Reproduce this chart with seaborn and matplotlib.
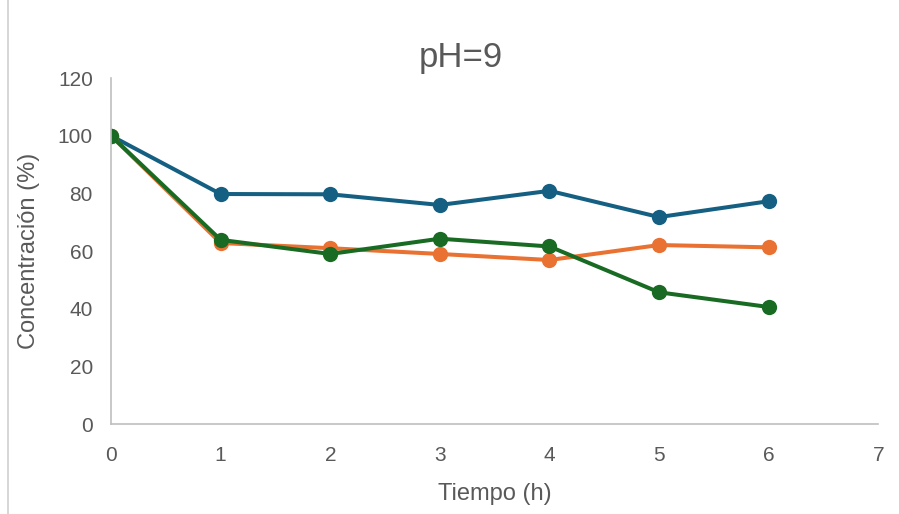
import pandas as pd
import matplotlib.pyplot as plt
import seaborn as sns
from matplotlib.lines import Line2D

tiempo = [0, 1, 2, 3, 4, 5, 6]
serie_azul = [100, 79.8, 79.7, 76.0, 80.9, 71.8, 77.3]
serie_naranja = [100, 62.8, 61.0, 59.0, 56.9, 62.1, 61.3]
serie_verde = [100, 63.9, 59.0, 64.3, 61.6, 45.7, 40.6]

colores = {"azul": "#156082", "naranja": "#E97132", "verde": "#196B24"}

df = pd.DataFrame({"Tiempo": tiempo, "azul": serie_azul,
                   "naranja": serie_naranja, "verde": serie_verde})
df_long = df.melt(id_vars="Tiempo", var_name="Serie", value_name="Concentracion")

sns.set_style("white")
plt.rcParams['font.family'] = ['Liberation Sans', 'DejaVu Sans']

fig = plt.figure(figsize=(8.99, 5.14), dpi=100)
ax = fig.add_axes([0.1235, 0.175, 0.8535, 0.673])

sns.lineplot(data=df_long, x="Tiempo", y="Concentracion", hue="Serie",
             palette=colores, marker="o", markersize=11, linewidth=2.9,
             markeredgewidth=0, legend=False, ax=ax)

ax.set_xlim(0, 7)
ax.set_ylim(0, 120)
ax.set_xticks(range(0, 8))
ax.set_yticks(range(0, 121, 20))
ax.tick_params(axis="both", length=0, labelsize=15, labelcolor="#595959")
ax.tick_params(axis="x", pad=16)
ax.tick_params(axis="y", pad=13)

fig.text(461 / 899, 1 - 57 / 514, "pH=9", fontsize=25, color="#595959",
         ha="center", va="center")
ax.set_xlabel("Tiempo (h)", fontsize=17, color="#595959", labelpad=13)
ax.set_ylabel("Concentración (%)", fontsize=17, color="#595959", labelpad=13)

for s in ["top", "right"]:
    ax.spines[s].set_visible(False)
for s in ["left", "bottom"]:
    ax.spines[s].set_color("#BFBFBF")
    ax.spines[s].set_linewidth(1.2)
    ax.spines[s].set_clip_on(False)

fig.add_artist(Line2D([0.009, 0.009], [0, 1], color="#D0D0D0", linewidth=1.2,
                      transform=fig.transFigure))

fig.savefig("out.png", dpi=100)
